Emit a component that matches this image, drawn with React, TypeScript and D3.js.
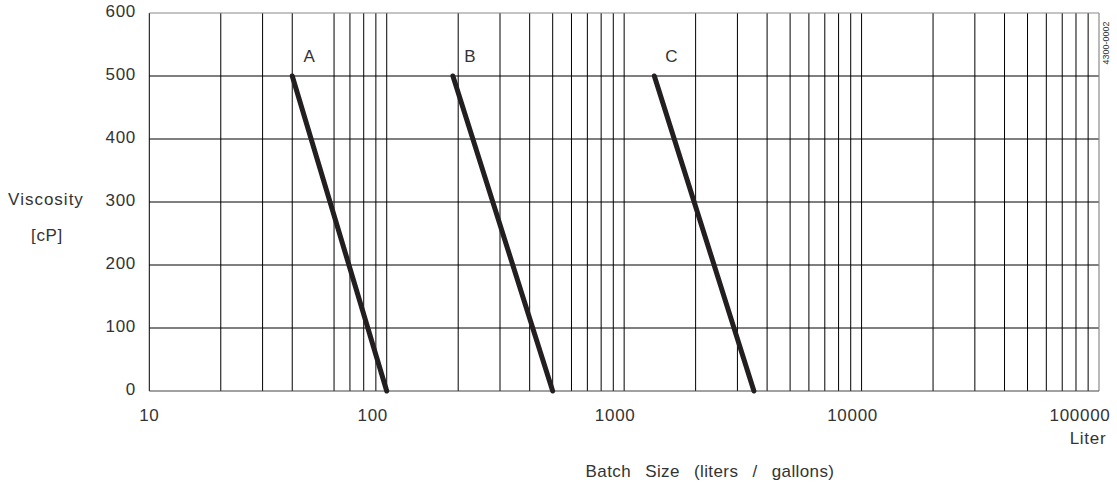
import React from "react";
import * as d3 from "d3";

const xTicks = [10, 100, 1000, 10000, 100000];
const xTickLabels = ["10", "100", "1000", "10000", "100000"];
const xLabelNudge = [0, -14, -9, -9, -19];
const yTicks = [0, 100, 200, 300, 400, 500, 600];
const gridX = [
  20, 30, 40, 60, 70, 80, 90, 100,
  200, 300, 400, 500, 600, 700, 800, 900, 1000,
  2000, 3000, 4000, 5000, 6000, 7000, 8000, 9000, 10000,
  20000, 30000, 40000, 50000, 60000, 70000, 80000, 90000,
];
const gridY = [100, 200, 300, 400, 500];
const seriesNames = ["A", "B", "C"];
const seriesTopBatch = [40, 190, 1340];
const seriesBottomBatch = [100, 500, 3520];
const seriesTopVisc = [500, 500, 500];
const seriesBottomVisc = [0, 0, 0];

const W = 1117;
const H = 486;
const FONT = "'Liberation Sans', Arial, Helvetica, sans-serif";
const TXT = "#333";
const INK = "#231f20";
const LS = 0.7;

export default function App() {
  const x = d3.scaleLog().domain([10, 100000]).range([149.3, 1099]);
  const y = d3.scaleLinear().domain([0, 600]).range([391, 13]);
  const line = d3
    .line<[number, number]>()
    .x((d) => x(d[0]))
    .y((d) => y(d[1]));

  return (
    <svg
      width={W}
      height={H}
      style={{ position: "absolute", left: 0, top: 0, background: "#fff" }}
      fontFamily={FONT}
    >
      {gridY.map((v) => (
        <line key={"h" + v} x1={x(10)} x2={x(100000)} y1={y(v)} y2={y(v)} stroke="#000" strokeWidth={1} />
      ))}
      {gridX.map((v) => (
        <line key={"v" + v} x1={x(v)} x2={x(v)} y1={y(600)} y2={y(0)} stroke="#000" strokeWidth={1} />
      ))}
      <line x1={x(10)} x2={x(10)} y1={y(600)} y2={y(0)} stroke="#000" strokeWidth={1} />
      <line x1={x(100000)} x2={x(100000)} y1={y(600)} y2={y(0)} stroke="#8a8a8a" strokeWidth={1.2} />
      <line x1={x(10)} x2={x(100000)} y1={y(600)} y2={y(600)} stroke="#8a8a8a" strokeWidth={1.2} />
      <line x1={x(10)} x2={x(100000)} y1={y(0)} y2={y(0)} stroke="#444" strokeWidth={1.2} />

      {seriesNames.map((n, i) => (
        <g key={n}>
          <path
            d={line([
              [seriesTopBatch[i], seriesTopVisc[i]],
              [seriesBottomBatch[i], seriesBottomVisc[i]],
            ]) || ""}
            stroke={INK}
            strokeWidth={5}
            strokeLinecap="round"
            fill="none"
          />
          <text
            x={x(seriesTopBatch[i]) + 17}
            y={y(seriesTopVisc[i]) - 18}
            fontSize={17}
            fill={TXT}
            textAnchor="middle"
            dominantBaseline="middle"
          >
            {n}
          </text>
        </g>
      ))}

      {yTicks.map((v) => (
        <text key={"yt" + v} x={136} y={y(v)} fontSize={17} letterSpacing={LS} fill={TXT} textAnchor="end" dominantBaseline="middle">
          {v}
        </text>
      ))}
      {xTicks.map((v, i) => (
        <text
          key={"xt" + v}
          x={x(v) + xLabelNudge[i]}
          y={417}
          fontSize={17}
          letterSpacing={LS}
          fill={TXT}
          textAnchor="middle"
          dominantBaseline="middle"
        >
          {xTickLabels[i]}
        </text>
      ))}
      <text x={1088} y={440} fontSize={17} letterSpacing={LS} fill={TXT} textAnchor="middle" dominantBaseline="middle">
        Liter
      </text>
      <text x={710} y={473} fontSize={17} letterSpacing={0.4} fill={TXT} textAnchor="middle" dominantBaseline="middle" wordSpacing={9}>
        Batch Size (liters / gallons)
      </text>
      <text x={46} y={201} fontSize={17} letterSpacing={1} fill={TXT} textAnchor="middle" dominantBaseline="middle">
        Viscosity
      </text>
      <text x={47} y={237} fontSize={17} letterSpacing={LS} fill={TXT} textAnchor="middle" dominantBaseline="middle">
        [cP]
      </text>
      <text
        x={1107}
        y={43}
        fontSize={9}
        fill={TXT}
        textAnchor="middle"
        dominantBaseline="middle"
        transform="rotate(-90 1107 43)"
      >
        4300-0002
      </text>
    </svg>
  );
}
